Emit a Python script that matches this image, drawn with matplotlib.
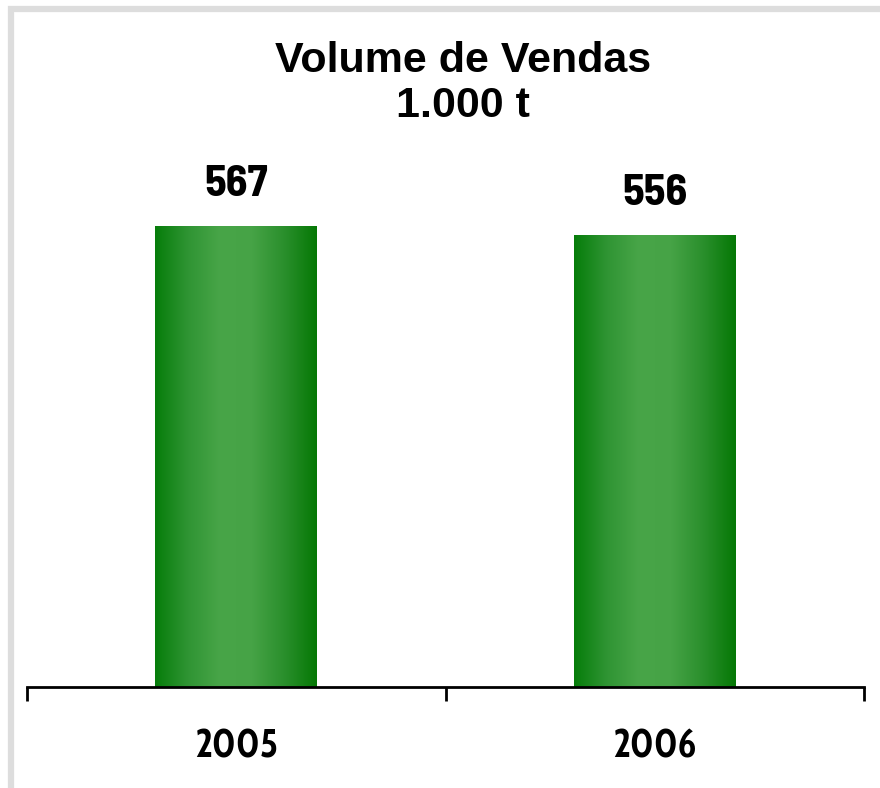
import matplotlib.pyplot as plt
import numpy as np
from matplotlib.patches import Rectangle
from matplotlib.colors import LinearSegmentedColormap

years = ["2005", "2006"]
volumes = [567, 556]

value_font = ["Barlow Semi Condensed", "DejaVu Sans"]
year_font = ["Cabin Condensed", "DejaVu Sans"]
title_font = ["Liberation Sans", "DejaVu Sans"]

W, H = 880, 788
fig = plt.figure(figsize=(W / 100, H / 100), dpi=100)

# gray frame (only left/top visible in the reference)
fig.patches.append(Rectangle((11 / W, -0.1), 1.2, (H - 9) / H + 0.1,
                             transform=fig.transFigure, fill=False,
                             edgecolor="#dddddd", linewidth=4.5))

ax = fig.add_axes([27 / W, 1 - 687 / H, 837 / W, 667 / H])
x = np.arange(len(years))
bars = ax.bar(x, volumes, width=0.387, color="none", zorder=2)

cmap = LinearSegmentedColormap.from_list(
    "g", ["#067d0a", "#2f9433", "#48a548", "#46a346", "#2a8f2c", "#057805"])
grad = np.linspace(0, 1, 256).reshape(1, -1)
for b in bars:
    x0, w, h = b.get_x(), b.get_width(), b.get_height()
    ax.imshow(grad, cmap=cmap, aspect="auto", extent=[x0, x0 + w, 0, h],
              zorder=1, interpolation="bilinear")
    ax.annotate(f"{h:.0f}", (x0 + w / 2, h), xytext=(0, 16.5),
                textcoords="offset points", ha="center", va="bottom",
                fontsize=32, fontweight="bold", family=value_font)

ax.set_xlim(-0.5, 1.5)
ax.set_ylim(0, 667 / 0.8113)
for s in ["top", "right", "left"]:
    ax.spines[s].set_visible(False)
ax.spines["bottom"].set_linewidth(2)
ax.set_yticks([])
ax.set_xticks([-0.5, 0.5, 1.5])
ax.set_xticklabels([])
ax.tick_params(axis="x", which="major", direction="out", length=10, width=2)
ax.set_xticks(x, minor=True)
ax.set_xticklabels(years, minor=True, fontsize=28.5, fontweight="bold", family=year_font)
ax.tick_params(axis="x", which="minor", length=0, pad=29.5)

fig.text(463 / W, 1 - 61 / H, "Volume de Vendas", ha="center", va="center",
         fontsize=31, fontweight="bold", family=title_font)
fig.text(463 / W, 1 - 106 / H, "1.000 t", ha="center", va="center",
         fontsize=31, fontweight="bold", family=title_font)

fig.savefig("out.png", dpi=100)
